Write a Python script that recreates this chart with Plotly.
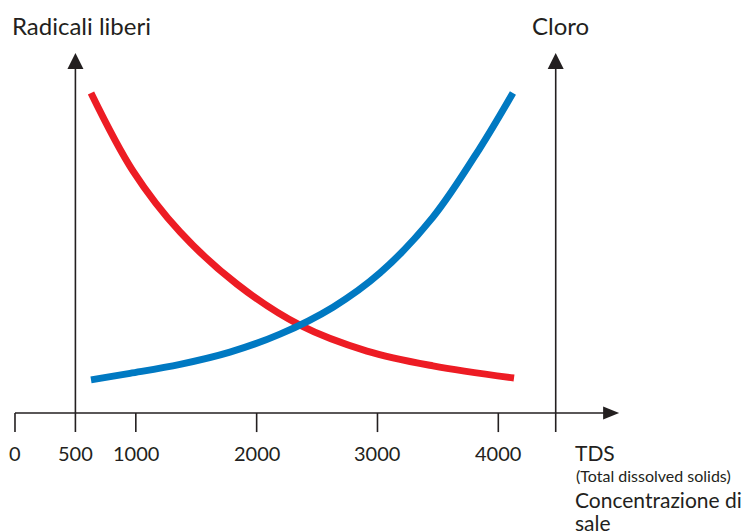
import plotly.graph_objects as go

# Data (TDS on x; relative level 0-100 on y)
red_x = [629, 977, 1366, 1837, 2359, 2913, 3459, 4130]
red_y = [88.9, 67.2, 50.3, 35.8, 24.4, 17.2, 13.1, 9.7]
blue_x = [629, 952, 1366, 1779, 2193, 2632, 3021, 3459, 3848, 4121]
blue_y = [9.2, 11.0, 13.5, 16.9, 21.9, 29.4, 38.9, 54.4, 73.6, 88.9]

tick_vals = [0, 500, 1000, 2000, 3000, 4000]
tick_text = ["0", "500", "1000", "2000", "3000", "4000"]

left_axis_x = 500
right_axis_x = 4475
x_arrow_end = 5000
y_top = 100
tick_len = -5.3

RED = "#ed1c24"
BLUE = "#0079c2"
INK = "#231f20"
FONT = "Lato"

fig = go.Figure()
fig.add_trace(go.Scatter(x=red_x, y=red_y, mode="lines",
                         line=dict(color=RED, width=7, shape="spline", smoothing=1.0), hoverinfo="skip"))
fig.add_trace(go.Scatter(x=blue_x, y=blue_y, mode="lines",
                         line=dict(color=BLUE, width=7, shape="spline", smoothing=1.0), hoverinfo="skip"))

shapes = []
axis_line = dict(color=INK, width=1.6)
# x axis
shapes.append(dict(type="line", xref="x", yref="y", x0=0, x1=x_arrow_end - 100, y0=0, y1=0,
                   line=axis_line, layer="below"))
shapes.append(dict(type="path", xref="x", yref="y", xsizemode="pixel", ysizemode="pixel",
                   xanchor=x_arrow_end, yanchor=0, path="M -16 -6.5 L 0 0 L -16 6.5 Z",
                   fillcolor=INK, line=dict(width=0)))
# vertical axes
for ax in (left_axis_x, right_axis_x):
    shapes.append(dict(type="line", xref="x", yref="y", x0=ax, x1=ax, y0=tick_len, y1=y_top - 3,
                       line=axis_line, layer="below"))
    shapes.append(dict(type="path", xref="x", yref="y", xsizemode="pixel", ysizemode="pixel",
                       xanchor=ax, yanchor=y_top, path="M -8 -16 L 8 -16 L 0 0 Z",
                       fillcolor=INK, line=dict(width=0)))
# ticks
for tv in tick_vals:
    if tv == left_axis_x:
        continue
    shapes.append(dict(type="line", xref="x", yref="y", x0=tv, x1=tv, y0=tick_len, y1=0,
                       line=axis_line, layer="below"))

annotations = []
for tv, tt in zip(tick_vals, tick_text):
    annotations.append(dict(x=tv, y=-11.1, xref="x", yref="y", text=tt, showarrow=False,
                            font=dict(family=FONT, size=20, color=INK),
                            xanchor="center", yanchor="middle"))


def px_note(text, xpx, ypx, size, anchor="left"):
    return dict(x=xpx / 750, y=1 - ypx / 531, xref="paper", yref="paper", text=text,
                showarrow=False, font=dict(family=FONT, size=size, color=INK),
                xanchor=anchor, yanchor="middle")


annotations += [
    px_note("Radicali liberi", 10, 25, 24),
    px_note("Cloro", 560, 25, 24, "center"),
    px_note("TDS", 573, 452, 21),
    px_note("(Total dissolved solids)", 574, 475, 16),
    px_note("Concentrazione di", 573, 499, 21),
    px_note("sale", 573, 522, 21),
]

fig.update_layout(
    width=750, height=531,
    margin=dict(l=0, r=0, t=0, b=0),
    paper_bgcolor="white", plot_bgcolor="white",
    showlegend=False,
    xaxis=dict(range=[-124.1, 6083], visible=False, fixedrange=True),
    yaxis=dict(range=[-32.78, 114.72], visible=False, fixedrange=True),
    shapes=shapes, annotations=annotations,
)

fig.write_html("out.html", config={"displayModeBar": False},
               post_script="document.body.style.margin='0';document.body.style.overflow='hidden';")
